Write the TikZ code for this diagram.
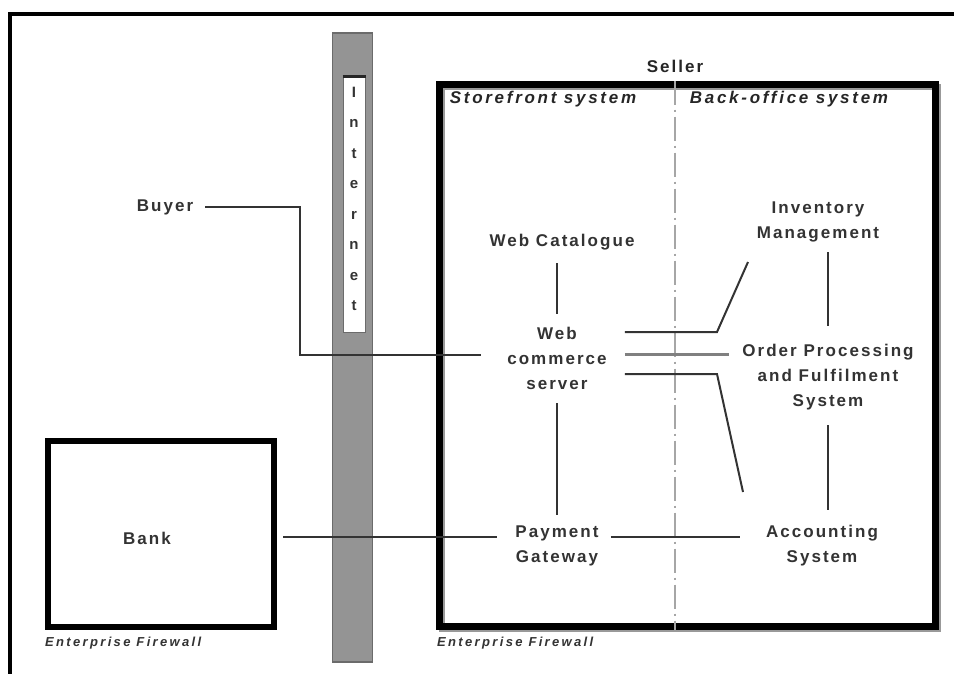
\documentclass[tikz,border=0pt]{standalone}
\usepackage{fontspec}
\newfontfamily\lab{Liberation Sans}[LetterSpace=12]
\newfontfamily\labb{Liberation Sans}[LetterSpace=16]
\newfontfamily\labfw{Liberation Sans}[LetterSpace=18]
\begin{document}
\begin{tikzpicture}[x=1pt,y=-1pt,
  lbl/.style={font=\lab\bfseries\fontsize{17}{25}\selectfont, align=center, inner sep=2pt, text=black!80},
  hdr/.style={font=\labb\bfseries\itshape\fontsize{17}{20}\selectfont, inner sep=2pt, text=black!85},
  fw/.style={font=\labfw\bfseries\itshape\fontsize{13}{15}\selectfont, anchor=west, inner sep=0pt, text=black!80},
  conn/.style={draw=black!80, line width=2pt},
  heavybox/.style={draw=black, line width=7pt, inner sep=0pt},
  divider/.style={draw=black!35, line width=1.5pt, dash pattern=on 24pt off 5pt on 2pt off 5pt}]
\useasboundingbox (0,0) rectangle (954,673);
\fill[white] (0,0) rectangle (954,673);
% outer frame (top and left edges)
\coordinate (fTL) at (10,14);
\draw[line width=4pt] (10,690) -- (fTL) -- (970,14);

% Seller box with shadow
\node[draw=black!40, line width=6pt, inner sep=0pt, minimum width=496pt, minimum height=542pt] (sellershadow) at (690,358) {};
\node[heavybox, minimum width=496pt, minimum height=542pt] (sellerbox) at (687,355) {};
\coordinate (divx) at (675,0);
\draw[divider] (sellerbox.north -| divx) -- (sellerbox.south -| divx);

% Bank box
\node[heavybox, line width=6pt, minimum width=226pt, minimum height=186pt] (bankbox) at (161,534) {};
\node[lbl] (bank) at (147,538) {Bank};

% Internet bar
\node[fill=black!42, draw=black!58, line width=1.5pt, inner sep=0pt, minimum width=40pt, minimum height=629pt] (inetbar) at (352.5,347.5) {};
\node[fill=white, draw=black!58, line width=1pt, inner sep=0pt, minimum width=22pt, minimum height=255pt] (inetbox) at (354,204.5) {};
\draw[line width=2.5pt, black!85] (inetbox.north west) -- (inetbox.north east);
\node[font=\fontspec{Liberation Sans}\bfseries\fontsize{15}{30.5}\selectfont, align=center, text=black!80, inner sep=0pt] (inet) at (354,199) {I\\n\\t\\e\\r\\n\\e\\t};

% headers
\node[font=\lab\bfseries\fontsize{17}{20}\selectfont, inner sep=2pt, text=black!85] (seller) at (675,66) {Seller};
\node[hdr] (store) at (543,99) {Storefront system};
\node[hdr] (back) at (789,99) {Back-office system};
\node[fw] (fw1) at (45,643) {Enterprise Firewall};
\node[fw] (fw2) at (437,643) {Enterprise Firewall};

% labels
\node[lbl] (buyer) at (165,207) {Buyer};
\node[lbl] (webcat) at (562,242) {Web Catalogue};
\node[lbl] (websrv) at (557,358) {Web\\commerce\\server};
\node[lbl] (inv) at (818,222) {Inventory\\Management};
\node[lbl] (order) at (828,377) {Order Processing\\and Fulfilment\\System};
\node[lbl] (pay) at (557,546) {Payment\\Gateway};
\node[lbl] (acct) at (822,546) {Accounting\\System};

% connector coordinates
\coordinate (bcorner) at (300,355);
\coordinate (payrow) at (0,537);
\coordinate (uprow) at (0,332);
\coordinate (midrow) at (0,354);
\coordinate (lorow) at (0,374);
\coordinate (upk) at (717,332);
\coordinate (lok) at (717,374);
\coordinate (invfoot) at (748,262);
\coordinate (accfoot) at (743,492);

% connectors
\draw[conn, shorten <=10pt, shorten >=24pt] (buyer.east) -| (bcorner) -- (websrv.west |- bcorner);
\draw[conn, shorten <=11pt, shorten >=11pt] (webcat.south -| websrv) -- (websrv.north);
\draw[conn, shorten <=12pt, shorten >=9pt] (websrv.south) -- (pay.north);
\draw[conn, shorten <=6pt, shorten >=16pt] (bankbox.east |- payrow) -- (pay.west |- payrow);
\draw[conn, shorten <=10pt, shorten >=24pt] (pay.east |- payrow) -- (acct.west |- payrow);
\draw[conn, shorten <=8pt, shorten >=16pt] (inv.south -| order) -- (order.north);
\draw[conn, shorten <=13pt, shorten >=13pt] (order.south) -- (acct.north -| order);
\draw[conn, shorten <=16pt] (websrv.east |- uprow) -- (upk) -- (invfoot);
\draw[draw=black!50, line width=3pt, shorten <=16pt, shorten >=11pt] (websrv.east |- midrow) -- (order.west |- midrow);
\draw[conn, shorten <=16pt] (websrv.east |- lorow) -- (lok) -- (accfoot);
\end{tikzpicture}
\end{document}
